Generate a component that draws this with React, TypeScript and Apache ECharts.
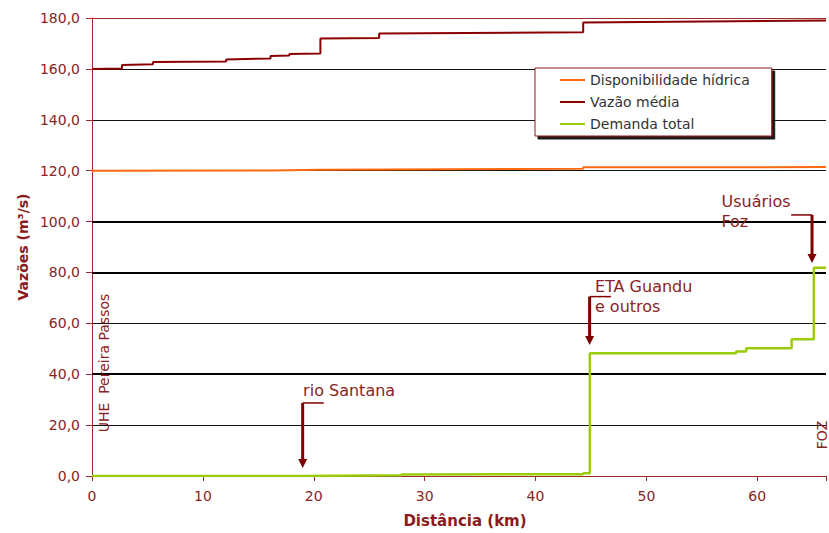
import React, { useEffect, useRef } from "react";
import * as echarts from "echarts";

const FONT = '"DejaVu Sans", Arial, sans-serif';

// Distância (km) vs vazões (m³/s)
const X_MAX = 66.2;
const Y_MIN = 0;
const Y_MAX = 180;
const Y_INTERVAL = 20;
const X_INTERVAL = 10;

const seriesNames = ["Disponibilidade hídrica", "Vazão média", "Demanda total"];

const disponibilidadeHidrica: [number, number][] = [
  [0, 120.0], [16.1, 120.1], [16.1, 120.3], [20.6, 120.4], [20.6, 120.6],
  [44.3, 120.8], [44.3, 121.3], [66.2, 121.4],
];

const vazaoMedia: [number, number][] = [
  [0, 160.0], [2.7, 160.2], [2.7, 161.5], [5.5, 161.8], [5.5, 162.7],
  [12.1, 162.9], [12.1, 163.7], [16.1, 164.1], [16.1, 165.1], [17.8, 165.3],
  [17.8, 165.9], [20.6, 166.0], [20.6, 171.9], [25.9, 172.1], [25.9, 173.9],
  [44.3, 174.4], [44.3, 178.2], [66.2, 179.0],
];

const demandaTotal: [number, number][] = [
  [0, 0], [18.8, 0], [18.8, 0.2], [27.9, 0.3], [27.9, 0.6], [44.3, 0.7],
  [44.3, 1.1], [44.9, 1.1], [44.9, 48.2], [58.1, 48.2], [58.1, 48.9],
  [59.0, 48.9], [59.0, 50.2], [63.1, 50.2], [63.1, 53.7], [65.1, 53.7],
  [65.1, 81.8], [66.2, 81.8],
];

const boldGridLevels = [40, 80, 100];

// annotations in data coordinates
const arrowNotes = [
  { text: "rio Santana", textAt: [19.04, 33.6], tip: [19.0, 3.1], kneeY: 28.7, endX: 20.9 },
  { text: "ETA Guandu\ne outros", textAt: [45.36, 70.7], tip: [44.88, 51.5], kneeY: 70.5, endX: 46.8 },
  { text: "Usuários\nFoz", textAt: [56.77, 104.1], tip: [64.94, 83.7], kneeY: 102.6, endX: 63.06 },
];
const verticalNotes = [
  { text: "UHE  Pereira Passos", at: [1.08, 44.4] },
  { text: "FOZ", at: [65.8, 16.1] },
];

const AXIS_COLOR = "#9B2C2C";
const LABEL_COLOR = "#8B2323";
const ARROW_COLOR = "#7F0000";

export default function App() {
  const ref = useRef<HTMLDivElement>(null);

  useEffect(() => {
    document.body.style.margin = "0";
    const chart = echarts.init(ref.current!, null, { renderer: "svg" });
    const fmt = (v: number) => v.toFixed(1).replace(".", ",");

    chart.setOption({
      animation: false,
      backgroundColor: "#fff",
      textStyle: { fontFamily: FONT },
      grid: { left: 92, right: 0, top: 18, bottom: 57 },
      legend: {
        data: seriesNames.map((name) => ({ name, icon: "rect" })),
        orient: "vertical",
        left: 535,
        top: 68,
        itemWidth: 25,
        itemHeight: 2,
        itemGap: 8,
        padding: [5, 22, 5, 25],
        backgroundColor: "#fff",
        borderColor: "#8B1A1A",
        borderWidth: 1,
        borderRadius: 0,
        shadowColor: "rgba(0,0,0,0.9)",
        shadowBlur: 1,
        shadowOffsetX: 3,
        shadowOffsetY: 3,
        textStyle: { color: "#333", fontSize: 14, fontFamily: FONT, lineHeight: 14 },
      },
      xAxis: [
        {
          type: "value",
          min: 0,
          max: X_MAX,
          interval: X_INTERVAL,
          axisLine: { show: true, onZero: false, lineStyle: { color: AXIS_COLOR, width: 1 } },
          axisTick: { show: true, length: 5, lineStyle: { color: AXIS_COLOR } },
          axisLabel: {
            color: LABEL_COLOR,
            fontSize: 14,
            margin: 13,
            fontFamily: FONT,
            formatter: (v: number) => (v > 60 ? "" : String(v)),
          },
          splitLine: { show: false },
        },
        {
          type: "value",
          position: "top",
          min: 0,
          max: X_MAX,
          interval: X_INTERVAL,
          axisLine: { show: true, onZero: false, lineStyle: { color: AXIS_COLOR, width: 1 } },
          axisTick: { show: false },
          axisLabel: { show: false },
          splitLine: { show: false },
        },
      ],
      yAxis: {
        type: "value",
        min: Y_MIN,
        max: Y_MAX,
        interval: Y_INTERVAL,
        axisLine: { show: true, lineStyle: { color: AXIS_COLOR, width: 1 } },
        axisTick: { show: true, length: 6, lineStyle: { color: AXIS_COLOR } },
        axisLabel: { color: LABEL_COLOR, fontSize: 14, margin: 12, fontFamily: FONT, formatter: fmt },
        splitLine: { show: true, lineStyle: { color: "#111", width: 1 } },
      },
      series: [
        {
          name: seriesNames[0],
          type: "line",
          symbol: "none",
          data: disponibilidadeHidrica,
          lineStyle: { color: "#FF6A10", width: 2 },
          itemStyle: { color: "#FF6A10" },
          z: 3,
          markLine: {
            silent: true,
            symbol: "none",
            label: { show: false },
            z: 1,
            lineStyle: { color: "#000", width: 2, type: "solid" },
            data: boldGridLevels.map((v) => ({ yAxis: v })),
          },
        },
        {
          name: seriesNames[1],
          type: "line",
          symbol: "none",
          data: vazaoMedia,
          lineStyle: { color: "#8B0000", width: 2 },
          itemStyle: { color: "#8B0000" },
          z: 4,
        },
        {
          name: seriesNames[2],
          type: "line",
          symbol: "none",
          data: demandaTotal,
          lineStyle: { color: "#9ACD08", width: 2.5 },
          itemStyle: { color: "#9ACD08" },
          z: 5,
        },
      ],
    });

    const px = (p: number[]) => chart.convertToPixel({ seriesIndex: 0 }, p) as number[];
    const graphics: any[] = [];

    arrowNotes.forEach((n) => {
      const tip = px(n.tip);
      const knee = px([n.tip[0], n.kneeY]);
      const end = px([n.endX, n.kneeY]);
      const t = px(n.textAt);
      graphics.push({
        type: "text",
        x: t[0],
        y: t[1],
        z: 10,
        style: {
          text: n.text,
          fill: LABEL_COLOR,
          fontSize: 16,
          fontFamily: FONT,
          align: "left",
          verticalAlign: "middle",
          lineHeight: 20,
        },
      });
      graphics.push({
        type: "line",
        z: 10,
        shape: { x1: knee[0], y1: knee[1], x2: end[0], y2: end[1] },
        style: { stroke: ARROW_COLOR, lineWidth: 1.5 },
      });
      graphics.push({
        type: "line",
        z: 10,
        shape: { x1: knee[0], y1: knee[1], x2: tip[0], y2: tip[1] - 7 },
        style: { stroke: ARROW_COLOR, lineWidth: 3 },
      });
      graphics.push({
        type: "polygon",
        z: 10,
        shape: {
          points: [
            [tip[0] - 4.5, tip[1] - 9],
            [tip[0] + 4.5, tip[1] - 9],
            [tip[0], tip[1]],
          ],
        },
        style: { fill: ARROW_COLOR },
      });
    });

    verticalNotes.forEach((n) => {
      const p = px(n.at);
      graphics.push({
        type: "text",
        x: p[0],
        y: p[1],
        rotation: Math.PI / 2,
        z: 10,
        style: {
          text: n.text,
          fill: LABEL_COLOR,
          fontSize: 14,
          fontFamily: FONT,
          align: "center",
          verticalAlign: "middle",
        },
      });
    });

    graphics.push({
      type: "text",
      x: 23,
      y: 247,
      rotation: Math.PI / 2,
      style: {
        text: "Vazões (m³/s)",
        fill: "#8B1A1A",
        fontSize: 14,
        fontWeight: "bold",
        fontFamily: FONT,
        align: "center",
        verticalAlign: "middle",
      },
    });
    graphics.push({
      type: "text",
      x: 465,
      y: 521,
      style: {
        text: "Distância (km)",
        fill: "#8B1A1A",
        fontSize: 15,
        fontWeight: "bold",
        fontFamily: FONT,
        align: "center",
        verticalAlign: "middle",
      },
    });

    chart.setOption({ graphic: graphics });

    return () => chart.dispose();
  }, []);

  return <div ref={ref} style={{ width: 829, height: 533 }} />;
}
